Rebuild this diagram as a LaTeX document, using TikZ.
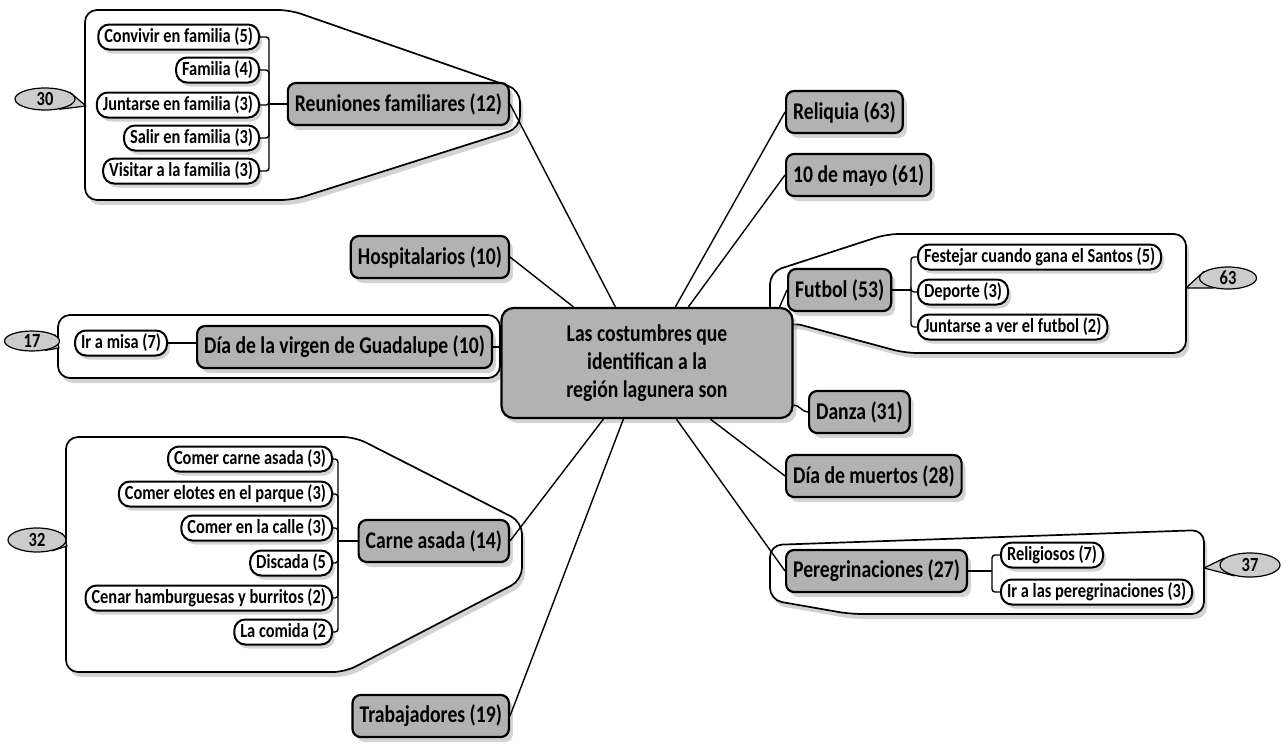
\documentclass[tikz,border=0pt]{standalone}
\usepackage{fontspec}
\setmainfont{Carlito}[FakeStretch=0.82]
\usepackage{xcolor}
\usepackage{tikz}
\usetikzlibrary{shapes.geometric}
\usetikzlibrary{shadows}
\usetikzlibrary{calc}
\pgfdeclarelayer{background}
\pgfsetlayers{background,main}
\definecolor{topic_gray}{gray}{0.70}
\definecolor{bubble_gray}{gray}{0.80}
\definecolor{shade_gray}{gray}{0.66}
\tikzset{
    mapnode/.style = {align=center, inner ysep=0pt, text centered},
    topic_node/.style = {mapnode, rectangle, rounded corners=8pt, draw=black, line width=2.2pt, fill=topic_gray, minimum height=42pt, inner xsep=7pt, font=\bfseries\fontsize{24}{26}\selectfont, drop shadow={shadow xshift=4pt, shadow yshift=-5pt, fill=shade_gray}},
    root_node/.style = {topic_node, minimum width=291pt, minimum height=110pt, rounded corners=12pt, font=\bfseries\fontsize{24}{28}\selectfont},
    sub_node/.style = {mapnode, rectangle, rounded corners=11pt, draw=black, line width=2pt, fill=white, minimum height=25pt, inner xsep=6pt, font=\bfseries\fontsize{20}{22}\selectfont, drop shadow={shadow xshift=3pt, shadow yshift=-4pt, fill=shade_gray}},
    count_bubble/.style = {mapnode, ellipse, draw=black, line width=1.2pt, fill=bubble_gray, inner xsep=0pt, minimum height=22pt, font=\bfseries\fontsize{20}{22}\selectfont},
    bubble_tail/.style = {draw=black, line width=1.2pt, fill=bubble_gray, line join=round},
    group_box/.style = {draw=black, line width=1.7pt, fill=white, rounded corners=12pt, drop shadow={shadow xshift=3pt, shadow yshift=-5pt, fill=shade_gray}},
    link/.style = {draw=black, line width=1.4pt},
    bracket/.style = {link, rounded corners=3pt}
}

\begin{document}
\begin{tikzpicture}[x=1pt, y=-1pt]
\useasboundingbox (0,0) rectangle (1286,744);

\node[root_node] (root) at (647,363) {Las costumbres que\\identifican a la\\región lagunera son};

\node[topic_node, anchor=east] (reun) at (510,104) {Reuniones familiares (12)};
\node[topic_node, anchor=east] (hosp) at (510,257) {Hospitalarios (10)};
\node[topic_node, anchor=east] (virgen) at (493,347) {Día de la virgen de Guadalupe (10)};
\node[topic_node, anchor=east] (carne) at (510,541) {Carne asada (14)};
\node[topic_node, anchor=east] (trab) at (510,716) {Trabajadores (19)};
\node[topic_node, anchor=west] (reliquia) at (785,112) {Reliquia (63)};
\node[topic_node, anchor=west] (mayo) at (785,175) {10 de mayo (61)};
\node[topic_node, anchor=west] (futbol) at (787,290) {Futbol (53)};
\node[topic_node, anchor=west] (danza) at (808,412) {Danza (31)};
\node[topic_node, anchor=west] (muertos) at (785,476) {Día de muertos (28)};
\node[topic_node, anchor=west] (pereg) at (785,571) {Peregrinaciones (27)};

\node[sub_node, anchor=east] (convivir) at (260,37) {Convivir en familia (5)};
\node[sub_node, anchor=east] (familia) at (260,70) {Familia (4)};
\node[sub_node, anchor=east] (juntarse) at (260,105) {Juntarse en familia (3)};
\node[sub_node, anchor=east] (salir) at (260,138) {Salir en familia (3)};
\node[sub_node, anchor=east] (visitar) at (260,171) {Visitar a la familia (3)};

\node[sub_node, anchor=east] (misa) at (168,343) {Ir a misa (7)};

\node[sub_node, anchor=east] (comercarne) at (333,459) {Comer carne asada (3)};
\node[sub_node, anchor=east] (elotes) at (333,494) {Comer elotes en el parque (3)};
\node[sub_node, anchor=east] (calle) at (333,528) {Comer en la calle (3)};
\node[sub_node, anchor=east] (discada) at (333,563) {Discada (5};
\node[sub_node, anchor=east] (cenar) at (333,598) {Cenar hamburguesas y burritos (2)};
\node[sub_node, anchor=east] (comida) at (333,632) {La comida (2};

\node[sub_node, anchor=west] (festejar) at (917,257) {Festejar cuando gana el Santos (5)};
\node[sub_node, anchor=west] (deporte) at (917,292) {Deporte (3)};
\node[sub_node, anchor=west] (verfutbol) at (917,327) {Juntarse a ver el futbol (2)};

\node[sub_node, anchor=west] (religiosos) at (1000,555) {Religiosos (7)};
\node[sub_node, anchor=west] (irpereg) at (1000,592) {Ir a las peregrinaciones (3)};

\node[count_bubble, minimum width=60pt] (b30) at (45,99) {30};
\node[count_bubble, minimum width=55pt, minimum height=20pt] (b17) at (32,341) {17};
\node[count_bubble, minimum width=58pt, minimum height=24pt] (b32) at (37,540) {32};
\node[count_bubble, minimum width=57pt] (b63) at (1228,278) {63};
\node[count_bubble, minimum width=60pt, minimum height=24pt] (b37) at (1250,565) {37};

\coordinate (t30) at (86,106);
\coordinate (t17) at (59,348);
\coordinate (t32) at (67,546);
\coordinate (t63) at (1186,288);
\coordinate (t37) at (1204,568);

\begin{pgfonlayer}{background}
\path[group_box] (85,200) -- (85,10) -- (290,10) -- (520,90) -- (520,128) -- (293,200) -- cycle;
\path[group_box] (58,315) rectangle (500,378);
\path[group_box] (66,672) -- (66,437) -- (355,437) -- (522,522) -- (522,580) -- (345,672) -- cycle;
\path[group_box] (770,335) -- (770,272) -- (887,234) -- (1186,234) -- (1186,353) -- (905,353) -- (790,322) -- cycle;
\path[group_box] (770,600) -- (770,545) -- (1204,530) -- (1204,614) -- (850,614) -- cycle;
\filldraw[bubble_tail] (b30.15) -- (t30) -- (b30.-35) -- cycle;
\filldraw[bubble_tail] (b17.15) -- (t17) -- (b17.-35) -- cycle;
\filldraw[bubble_tail] (b32.15) -- (t32) -- (b32.-35) -- cycle;
\filldraw[bubble_tail] (b63.165) -- (t63) -- (b63.215) -- cycle;
\filldraw[bubble_tail] (b37.165) -- (t37) -- (b37.215) -- cycle;
\end{pgfonlayer}

\draw[link] (reun.east) -- ([xshift=115pt]root.north west);
\draw[link] (hosp.east) -- ([xshift=73pt]root.north west);
\draw[link] (reliquia.west) -- ([xshift=175pt]root.north west);
\draw[link] (mayo.west) -- ([xshift=188pt]root.north west);
\draw[link] (futbol.west) -- ([xshift=-14pt]root.north east);
\draw[link] (virgen.east) -- (virgen.east -| root.west);
\draw[link] (danza.west) to[out=180, in=0] ([yshift=14pt]root.south east);
\draw[link] (muertos.west) -- ([xshift=210pt]root.south west);
\draw[link] (pereg.west) -- ([xshift=176pt]root.south west);
\draw[link] (carne.east) -- ([xshift=103pt]root.south west);
\draw[link] (trab.east) -- ([xshift=123pt]root.south west);

\coordinate (reun_bar) at ($(juntarse.east |- reun.west)+(9,0)$);
\draw[link] (reun.west) -- (reun_bar);
\draw[bracket] (convivir.east) -| (reun_bar);
\draw[bracket] (familia.east) -| (reun_bar);
\draw[bracket] (juntarse.east) -| (reun_bar);
\draw[bracket] (salir.east) -| (reun_bar);
\draw[bracket] (visitar.east) -| (reun_bar);

\draw[link] (misa.east) -- (misa.east -| virgen.west);

\coordinate (carne_bar) at ($(calle.east |- carne.west)+(5,0)$);
\draw[link] (carne.west) -- (carne_bar);
\draw[bracket] (comercarne.east) -| (carne_bar);
\draw[bracket] (elotes.east) -| (carne_bar);
\draw[bracket] (calle.east) -| (carne_bar);
\draw[bracket] (discada.east) -| (carne_bar);
\draw[bracket] (cenar.east) -| (carne_bar);
\draw[bracket] (comida.east) -| (carne_bar);

\coordinate (fut_bar) at ($(festejar.west |- futbol.east)+(-6,0)$);
\draw[link] (futbol.east) -- (fut_bar);
\draw[bracket] (festejar.west) -| (fut_bar);
\draw[bracket] (deporte.west) -| (fut_bar);
\draw[bracket] (verfutbol.west) -| (fut_bar);

\coordinate (pereg_bar) at ($(religiosos.west |- pereg.east)+(-8,0)$);
\draw[link] (pereg.east) -- (pereg_bar);
\draw[bracket] (religiosos.west) -| (pereg_bar);
\draw[bracket] (irpereg.west) -| (pereg_bar);
\end{tikzpicture}
\end{document}
